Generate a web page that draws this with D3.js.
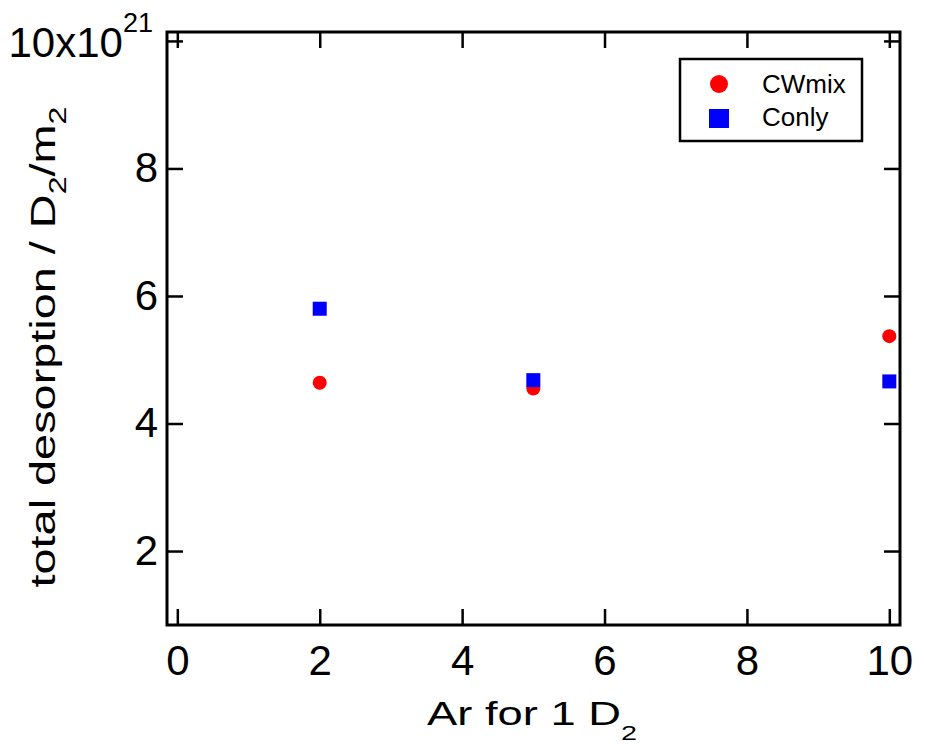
<!DOCTYPE html>
<html>
<head>
<meta charset="utf-8">
<title>total desorption</title>
<script src="https://cdn.jsdelivr.net/npm/d3@7"></script>
<style>
  body { margin: 0; background: #fff; }
  text { font-family: "Liberation Sans", Arial, sans-serif; fill: #000; }
  .axis text { font-size: 42px; }
  .axis line { stroke: #000; stroke-width: 2.5px; }
  .axis path { display: none; }
</style>
</head>
<body>
<svg id="chart" width="926" height="744"></svg>
<script>
// data (values in units of 1e21 D2/m2)
var arRatio = [2, 5, 10];
var cwmix = [4.64, 4.55, 5.37];
var conly = [5.80, 4.68, 4.66];
var xTicks = [0, 2, 4, 6, 8, 10];
var yTicks = [2, 4, 6, 8, 10];

var margin = {top: 32, right: 26, bottom: 119, left: 167},
    width = 926 - margin.left - margin.right,
    height = 744 - margin.top - margin.bottom;

var svg = d3.select("#chart");
var g = svg.append("g")
    .attr("transform", "translate(" + margin.left + "," + margin.top + ")");

var x = d3.scaleLinear().domain([-0.145, 10.15]).range([0, width]);
var y = d3.scaleLinear().domain([0.84, 10.14]).range([height, 0]);

// bottom axis, ticks pointing in
g.append("g").attr("class", "axis")
    .attr("transform", "translate(0," + height + ")")
    .call(d3.axisBottom(x).tickValues(xTicks).tickSize(-16).tickPadding(20));

// top mirror ticks
g.append("g").attr("class", "axis")
    .call(d3.axisTop(x).tickValues(xTicks).tickSize(-16).tickFormat(""));

// left axis
var left = g.append("g").attr("class", "axis")
    .call(d3.axisLeft(y).tickValues(yTicks).tickSize(-16).tickPadding(9)
      .tickFormat(function(d) { return d === 10 ? "" : d; }));

// the top label carries the exponent
var topLabel = left.selectAll(".tick").filter(function(d) { return d === 10; }).select("text")
    .attr("x", -14).attr("dy", "16");
topLabel.append("tspan").text("10x10");
topLabel.append("tspan").attr("dy", "-25").style("font-size", "27px").text("21");

// right mirror ticks
g.append("g").attr("class", "axis")
    .attr("transform", "translate(" + width + ",0)")
    .call(d3.axisRight(y).tickValues(yTicks).tickSize(-16).tickFormat(""));

// frame
g.append("rect")
    .attr("width", width).attr("height", height)
    .attr("fill", "none").attr("stroke", "#000").attr("stroke-width", 3);

// points
var pts = arRatio.map(function(a, i) { return {a: a, c: cwmix[i], o: conly[i]}; });

g.selectAll(".cw").data(pts).enter().append("circle")
    .attr("class", "cw")
    .attr("cx", function(d) { return x(d.a); })
    .attr("cy", function(d) { return y(d.c); })
    .attr("r", 7)
    .attr("fill", "#ff0000");

g.selectAll(".co").data(pts).enter().append("rect")
    .attr("class", "co")
    .attr("x", function(d) { return x(d.a) - 7; })
    .attr("y", function(d) { return y(d.o) - 7; })
    .attr("width", 14).attr("height", 14)
    .attr("fill", "#0000ff");

// legend
var lg = svg.append("g").attr("transform", "translate(680,59)");
lg.append("rect").attr("width", 182).attr("height", 82)
    .attr("fill", "#fff").attr("stroke", "#000").attr("stroke-width", 2.5);
lg.append("circle").attr("cx", 39).attr("cy", 25).attr("r", 9).attr("fill", "#ff0000");
lg.append("rect").attr("x", 29).attr("y", 50).attr("width", 20).attr("height", 19).attr("fill", "#0000ff");
lg.append("text").attr("x", 82).attr("y", 34).style("font-size", "26px").text("CWmix");
lg.append("text").attr("x", 82).attr("y", 67).style("font-size", "26px").text("Conly");

// x title
var xt = svg.append("text")
    .attr("x", 532).attr("y", 725)
    .attr("text-anchor", "middle")
    .attr("textLength", 210).attr("lengthAdjust", "spacingAndGlyphs")
    .style("font-size", "33px");
xt.append("tspan").text("Ar for 1 D");
xt.append("tspan").attr("dy", "15").style("font-size", "21px").text("2");

// y title
var yt = svg.append("text")
    .attr("transform", "translate(55,347) rotate(-90)")
    .attr("text-anchor", "middle")
    .attr("textLength", 481).attr("lengthAdjust", "spacingAndGlyphs")
    .style("font-size", "35px");
yt.append("tspan").text("total desorption / D");
yt.append("tspan").attr("dy", "11").style("font-size", "24px").text("2");
yt.append("tspan").attr("dy", "-11").text("/m");
yt.append("tspan").attr("dy", "11").style("font-size", "24px").text("2");
</script>
</body>
</html>
